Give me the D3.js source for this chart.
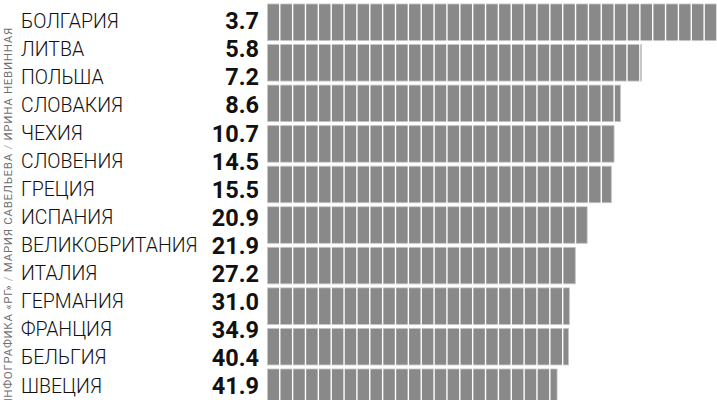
<!DOCTYPE html>
<html>
<head>
<meta charset="utf-8">
<script src="https://cdn.jsdelivr.net/npm/d3@7"></script>
<style>
  body { margin: 0; background: #fff; }
  svg { display: block; }
</style>
</head>
<body>
<script>
const countries = ["БОЛГАРИЯ", "ЛИТВА", "ПОЛЬША", "СЛОВАКИЯ", "ЧЕХИЯ", "СЛОВЕНИЯ", "ГРЕЦИЯ",
    "ИСПАНИЯ", "ВЕЛИКОБРИТАНИЯ", "ИТАЛИЯ", "ГЕРМАНИЯ", "ФРАНЦИЯ", "БЕЛЬГИЯ", "ШВЕЦИЯ"];
const values = [3.7, 5.8, 7.2, 8.6, 10.7, 14.5, 15.5, 20.9, 21.9, 27.2, 31.0, 34.9, 40.4, 41.9];
// striped bars as they appear in the picture (share of the longest bar, %)
const barLengths = [100, 82, 77.4, 76, 75.4, 70.1, 67.5, 66.2, 66, 63.5];
const credit = ["ИНФОГРАФИКА «РГ» ", "/", " МАРИЯ САВЕЛЬЕВА ", "/", " ИРИНА НЕВИННАЯ"];

function createGraph() {
    let width = 717,
        height = 400,
        barLeft = 267.5,
        stripeStep = 12.86;

    const svg = d3.select("body")
        .append("svg")
        .attr("width", width)
        .attr("height", height);

    const xScale = d3.scaleLinear()
        .domain([0, 100])
        .range([0, 456]);

    const yBar = d3.scaleBand()
        .domain(d3.range(barLengths.length))
        .range([4, 405.5])
        .paddingInner(0.1);

    const yLabel = d3.scalePoint()
        .domain(countries)
        .range([20.5, 385.5]);

    const bars = svg.selectAll("g.bar")
        .data(barLengths)
        .enter()
        .append("g")
        .attr("class", "bar")
        .attr("transform", (d, i) => `translate(${barLeft},${yBar(i)})`);

    bars.append("rect")
        .attr("width", d => xScale(d))
        .attr("height", yBar.bandwidth())
        .attr("fill", "#898989")
        .attr("stroke", "#c4c4c4")
        .attr("stroke-width", 0.8);

    bars.selectAll("line")
        .data(d => d3.range(stripeStep, xScale(d), stripeStep))
        .enter()
        .append("line")
        .attr("x1", d => d - 0.6)
        .attr("x2", d => d - 0.6)
        .attr("y1", -0.5)
        .attr("y2", yBar.bandwidth() + 0.5)
        .attr("stroke", "#fff")
        .attr("stroke-width", 1.4);

    svg.selectAll("text.name")
        .data(countries)
        .enter()
        .append("text")
        .attr("class", "name")
        .attr("x", 21)
        .attr("y", d => yLabel(d))
        .attr("dy", "0.36em")
        .attr("font-family", "Roboto")
        .attr("font-weight", 300)
        .attr("font-size", 19.5)
        .attr("fill", "#111")
        .text(d => d);

    svg.selectAll("text.value")
        .data(values)
        .enter()
        .append("text")
        .attr("class", "value")
        .attr("x", 259)
        .attr("y", (d, i) => yLabel(countries[i]))
        .attr("dy", "0.37em")
        .attr("text-anchor", "end")
        .attr("font-family", "Roboto")
        .attr("font-weight", "bold")
        .attr("font-size", 23.5)
        .attr("fill", "#111")
        .text(d => d.toFixed(1));

    svg.append("text")
        .attr("transform", "translate(11.5,27) rotate(-90)")
        .attr("text-anchor", "end")
        .attr("font-family", "Roboto")
        .attr("font-size", 11.5)
        .attr("letter-spacing", 0.7)
        .selectAll("tspan")
        .data(credit)
        .enter()
        .append("tspan")
        .attr("fill", d => d === "/" ? "#bbb" : "#707070")
        .text(d => d);
}

document.addEventListener('DOMContentLoaded', function (e) {
    createGraph();
});
</script>
</body>
</html>
